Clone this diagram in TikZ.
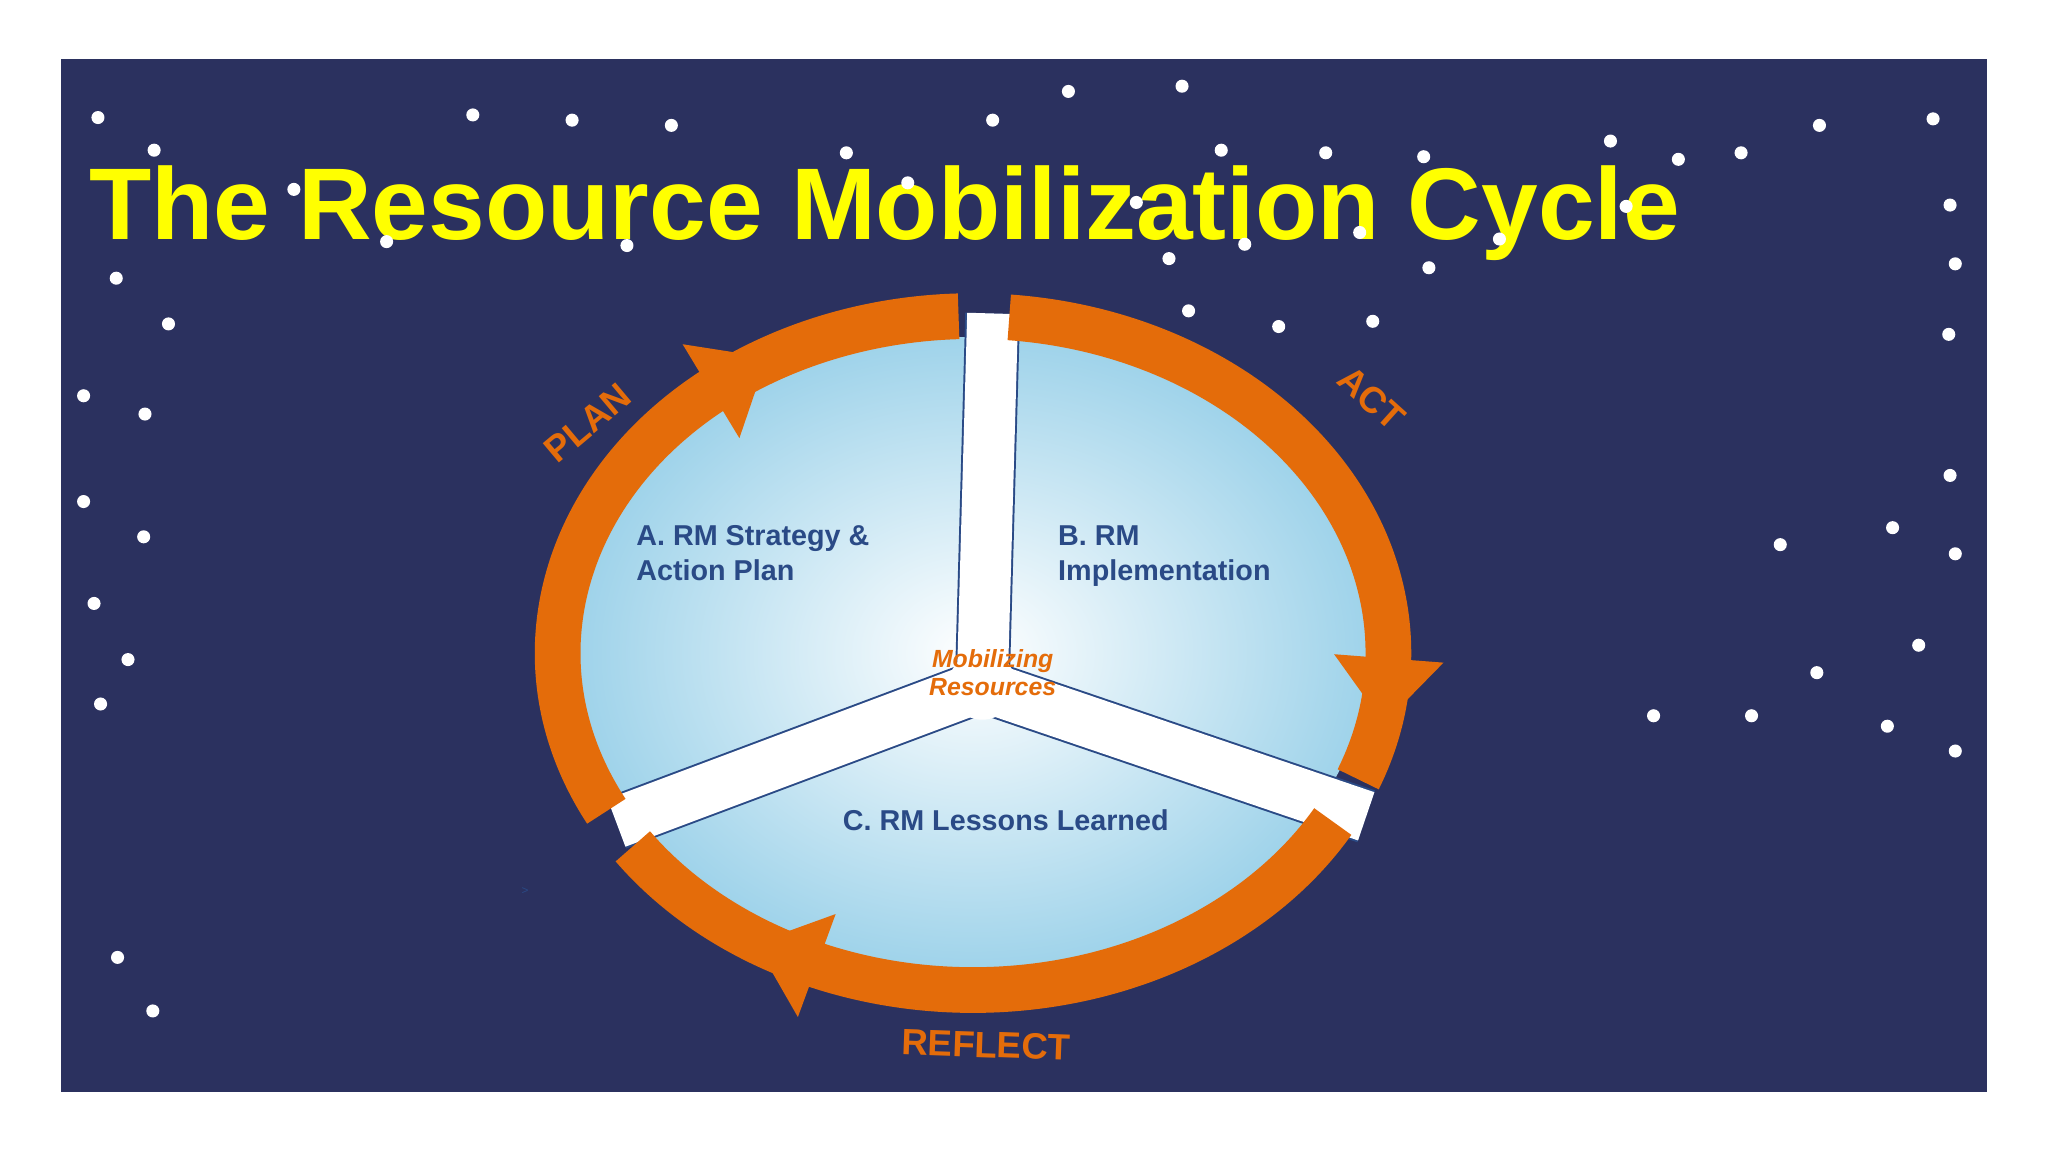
\documentclass[tikz,border=0pt]{standalone}
\usepackage{fontspec}
\setmainfont{Liberation Sans}
\usetikzlibrary{decorations.markings}
\definecolor{bg}{HTML}{2B315F}
\definecolor{ttl}{HTML}{FFFF00}
\definecolor{org}{HTML}{E46C0A}
\definecolor{txtb}{HTML}{2A4A86}
\definecolor{lb}{HTML}{9FD3EA}
\tikzset{
  ring/.style={draw=org,line width=35pt},
  star/.style={fill=white},
  lbl/.style={text=txtb,font=\fontsize{22}{27}\selectfont\bfseries,align=left,inner sep=0},
  olbl/.style={text=org,font=\fontsize{28}{30}\selectfont\bfseries,inner sep=0},
  head/.style={postaction={decorate,decoration={markings,mark=at position #1 with {\fill[org] (-12,-42) -- (38,0) -- (-12,42) -- cycle;}}}}
}
\begin{document}
\begin{tikzpicture}[x=1pt,y=-1pt]
\useasboundingbox (0,0) rectangle (1568,882);
\fill[white] (0,0) rectangle (1568,882);
\fill[bg] (47,45) rectangle (1521,836);
% light disc
\shade[inner color=white,outer color=lb] (745,500) ellipse [x radius=302,y radius=242];
% Y divider
\coordinate (c) at (752,525);
\coordinate (t) at (760,240);
\coordinate (l) at (472,630);
\coordinate (r) at (1046,625);
\draw[txtb,line width=42pt,line cap=butt] (c) -- (t) (c) -- (l) (c) -- (r);
\draw[white,line width=39pt,line cap=butt] (c) -- (t) (c) -- (l) (c) -- (r);
\fill[white] (c) circle (26);
% orange arcs
\draw[ring,head=0.67] (745,500) ++(-208:318 and 258) arc[start angle=-208,end angle=-92,x radius=318,y radius=258];
\draw[ring,head=0.84] (745,500) ++(-85:318 and 258) arc[start angle=-85,end angle=22,x radius=318,y radius=258];
\draw[ring,head=0.74] (745,500) ++(30:318 and 258) arc[start angle=30,end angle=145,x radius=318,y radius=258];
% texts
\node[anchor=base west,text=ttl,font=\fontsize{78}{84}\selectfont\bfseries,inner sep=0] (title) at (68,183) {The Resource Mobilization Cycle};
\foreach \p in {(75,90),(118,115),(362,88),(438,92),(514,96),(818,70),(905,66),(760,92),(935,115),(1015,117),(1090,120),(1233,108),(1285,122),(1333,117),(1393,96),(1480,91),(1493,157),(1497,202),(1492,256),(89,213),(129,248),(64,303),(111,317),(64,384),(110,411),(72,462),(98,505),(77,539),(90,733),(117,774),(1493,364),(1449,404),(1363,417),(1497,424),(1469,494),(1391,515),(1266,548),(1341,548),(1445,556),(1497,575),(910,238),(979,250),(1051,246),(1094,205),(895,198),(1041,178),(1148,183),(1245,158),(225,145),(296,185),(480,188),(648,117),(695,140),(870,155),(953,187)}
  \fill[star] \p circle (5);
\node[lbl,anchor=north west] (a) at (487,402) {A. RM Strategy \&\\Action Plan};
\node[lbl,anchor=north west] (b) at (810,402) {B. RM\\Implementation};
\node[lbl] (cc) at (770,628) {C. RM Lessons Learned};
\node[text=org,font=\fontsize{19}{21}\selectfont\bfseries\itshape,align=center,inner sep=0] (m) at (760,515) {Mobilizing\\Resources};
\node[olbl,rotate=40] (plan) at (450,324) {PLAN};
\node[olbl,rotate=-42] (act) at (1050,305) {ACT};
\node[olbl,rotate=-2] (refl) at (755,800) {REFLECT};
\node[text=txtb,font=\small,inner sep=0] (gt) at (402,682) {>};
\end{tikzpicture}
\end{document}
